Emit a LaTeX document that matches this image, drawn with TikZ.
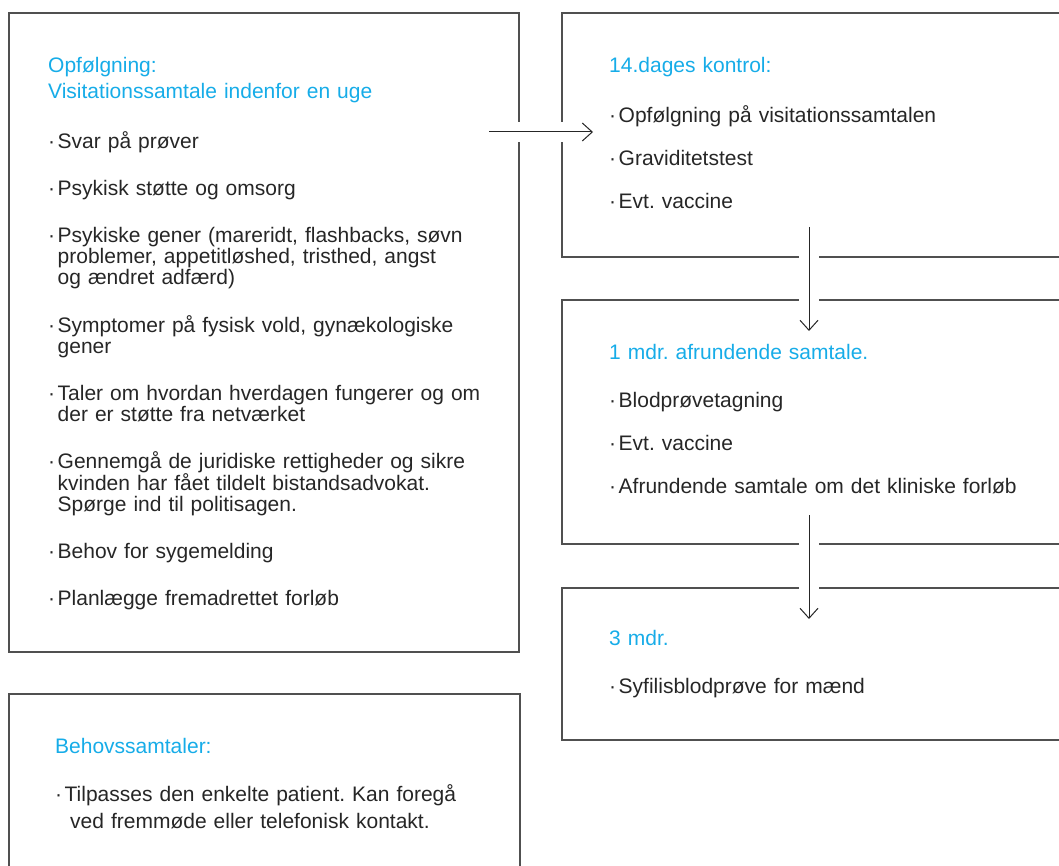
\documentclass[tikz,border=0pt]{standalone}
\usepackage{fontspec}
\setmainfont{Liberation Sans}
\usetikzlibrary{arrows.meta}
\definecolor{lysblaa}{RGB}{22,172,232}
\definecolor{tekst}{RGB}{38,38,38}
\definecolor{kant}{RGB}{80,80,80}
\frenchspacing
\newlength\pktw
\newlength\pktsep
% blue heading and bullet items with hanging indent
\newcommand{\ovs}[1]{\textcolor{lysblaa}{#1}\par\vspace{\dimexpr27pt-\pktsep\relax}}
\newcommand{\pkt}[1]{\par\vspace{\pktsep}\settowidth{\pktw}{\textperiodcentered\hspace{2.5pt}}%
  \hangindent=\pktw\hangafter=1 \textperiodcentered\hspace{2.5pt}#1}

\begin{document}
\begin{tikzpicture}[x=1pt,y=-1pt,
    box/.style={rectangle,draw=kant,line width=1.2pt,anchor=north west,inner sep=0pt,outer sep=0pt},
    txt/.style={anchor=base west,inner sep=0pt,align=left,text=tekst,
      font=\fontsize{21}{21}\selectfont,
      execute at begin node={\setlength\parskip{0pt}\setlength\pktsep{22pt}}},
    bred/.style={execute at begin node={\setlength\pktsep{26pt}}},
    pil/.style={-{Straight Barb[length=10pt,width=18pt]},line width=1pt,draw=tekst,
      preaction={-,draw=white,line width=20pt}}]
    \useasboundingbox (0,0) rectangle (1059,866);
    %
    \begin{scope}
      \clip (0,0) rectangle (1059,866);
      \node[box,minimum width=510pt,minimum height=639pt] (opf) at (9,13) {};
      \node[box,minimum width=511pt,minimum height=220pt] (behov) at (9,694) {};
      \node[box,minimum width=540pt,minimum height=244pt] (kontrol) at (562,13) {};
      \node[box,minimum width=540pt,minimum height=244pt] (mdr1) at (562,300) {};
      \node[box,minimum width=540pt,minimum height=152pt] (mdr3) at (562,588) {};
    \end{scope}
    %
    \node[txt,bred,text width=520pt] (opf-t) at (48,73) {%
      \ovs{Opfølgning:\\[5pt]Visitationssamtale indenfor en uge}%
      \pkt{Svar på prøver}%
      \pkt{Psykisk støtte og omsorg}%
      \pkt{Psykiske gener (mareridt, flashbacks, søvn\newline problemer, appetitløshed, tristhed, angst\newline og ændret adfærd)}%
      \pkt{Symptomer på fysisk vold, gynækologiske\newline gener}%
      \pkt{Taler om hvordan hverdagen fungerer og om\newline der er støtte fra netværket}%
      \pkt{Gennemgå de juridiske rettigheder og sikre\newline kvinden har fået tildelt bistandsadvokat.\newline Spørge ind til politisagen.}%
      \pkt{Behov for sygemelding}%
      \pkt{Planlægge fremadrettet forløb}};
    %
    \node[txt,text width=500pt] (behov-t) at (55,753) {%
      \ovs{Behovssamtaler:}%
      \pkt{Tilpasses den enkelte patient. Kan foregå\\[6pt]\hspace*{15pt}ved fremmøde eller telefonisk kontakt.}};
    %
    \node[txt,text width=460pt] (kontrol-t) at (609,73) {%
      \ovs{14.dages kontrol:}%
      \pkt{Opfølgning på visitationssamtalen}%
      \pkt{Graviditetstest}%
      \pkt{Evt. vaccine}};
    %
    \node[txt,text width=460pt] (mdr1-t) at (609,359) {%
      \ovs{1 mdr. afrundende samtale.}%
      \pkt{Blodprøvetagning}%
      \pkt{Evt. vaccine}%
      \pkt{Afrundende samtale om det kliniske forløb}};
    %
    \node[txt,text width=460pt] (mdr3-t) at (609,645) {%
      \ovs{3 mdr.}%
      \pkt{Syfilisblodprøve for mænd}};
    %
    \coordinate (pil1a) at (489,132);
    \coordinate (pil1b) at (593,132);
    \coordinate (pil2a) at (809,227);
    \coordinate (pil2b) at (809,331);
    \coordinate (pil3a) at (809,515);
    \coordinate (pil3b) at (809,619);
    \draw[pil] (pil1a) -- (pil1b);
    \draw[pil] (pil2a) -- (pil2b);
    \draw[pil] (pil3a) -- (pil3b);
\end{tikzpicture}
\end{document}
